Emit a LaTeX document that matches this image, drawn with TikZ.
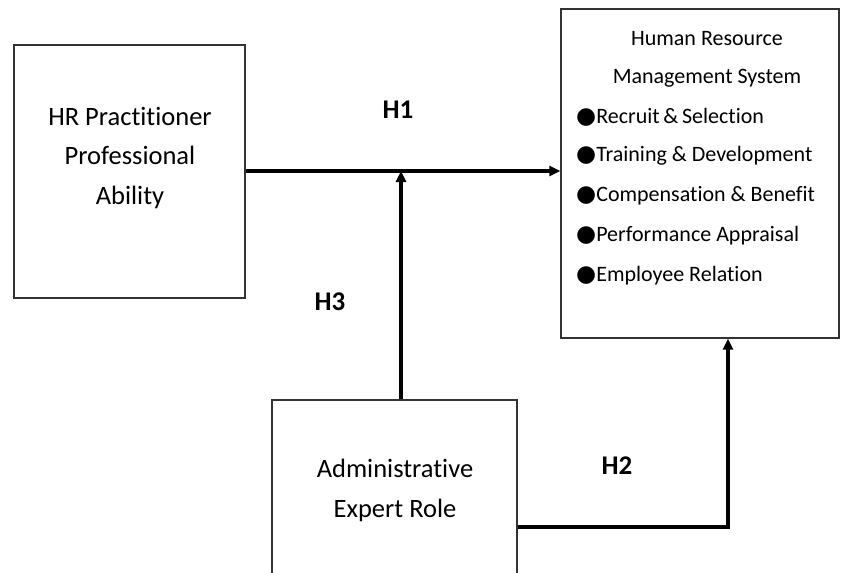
\documentclass[tikz,border=0pt]{standalone}
\usepackage{fontspec}
\setmainfont[Ligatures=NoCommon]{Carlito}
\newfontfamily\dejavu{DejaVu Sans}
\usetikzlibrary{arrows.meta}
\newcommand{\bulletsym}{{\dejavu\fontsize{23}{24}\selectfont ●}}
\begin{document}
\begin{tikzpicture}[x=1pt,y=-1pt,
  boxstyle/.style={draw=black!80,line width=1.3pt,rectangle,inner sep=0pt},
  arr/.style={line width=3.5pt,-{Triangle[length=11pt,width=10pt]}},
  hlabel/.style={font=\fontsize{27}{30}\selectfont\bfseries},
  bul/.style={anchor=west,font=\fontsize{22}{26}\selectfont,inner sep=0pt}]
\useasboundingbox (0,0) rectangle (844,573);
\begin{scope}
\clip (0,0) rectangle (844,573);
\node[boxstyle,minimum width=231pt,minimum height=253pt] (hr) at (129.5,171.5) {};
\node[boxstyle,minimum width=278pt,minimum height=329pt] (hrm) at (700,173.5) {};
\node[boxstyle,minimum width=245pt,minimum height=190pt] (adm) at (394.5,495) {};
\end{scope}
% left box text
\node[font=\fontsize{26.5}{39.5}\selectfont,align=center] (hrt) at (130,158) {HR Practitioner\\Professional\\Ability};
% right box text
\node[font=\fontsize{22}{38}\selectfont,align=center] (hrmt) at (707,59) {Human Resource\\Management System};
\node[bul] (b1) at (576,117) {\bulletsym Recruit\,\&\,Selection};
\node[bul] (b2) at (576,156) {\bulletsym Training \& Development};
\node[bul] (b3) at (576,196) {\bulletsym Compensation \& Benefit};
\node[bul] (b4) at (576,236) {\bulletsym Performance Appraisal};
\node[bul] (b5) at (576,276) {\bulletsym Employee Relation};
% bottom text
\node[font=\fontsize{26.5}{40}\selectfont,align=center] (admt) at (395,490) {Administrative\\Expert Role};
% labels
\node[hlabel] (h1) at (398,110) {H1};
\node[hlabel] (h3) at (330,302) {H3};
\node[hlabel] (h2) at (617,466) {H2};
% connectors
\coordinate (j) at (401,171);
\coordinate (c2) at (728,527);
\draw[arr] (hr.east |- j) -- (hrm.west |- j);
\draw[arr] (adm.north -| j) -- (j);
\draw[arr] (adm.east |- c2) -- (c2) -- (hrm.south -| c2);
\end{tikzpicture}
\end{document}
